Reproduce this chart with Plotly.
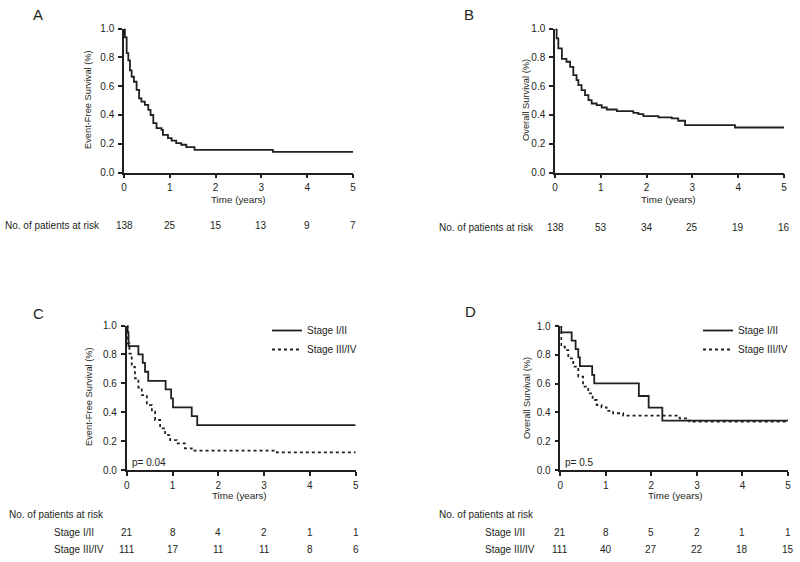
import plotly.graph_objects as go

# ---------------- data ----------------
ticks = [0, 1, 2, 3, 4, 5]

# Panel A: Event-free survival, all patients
A_t = [0, 0.02, 0.058, 0.094, 0.13, 0.167, 0.217, 0.275, 0.33, 0.38, 0.455, 0.53, 0.58, 0.64, 0.71,
       0.82, 0.85, 0.96, 1.04, 1.14, 1.25, 1.36, 1.54, 3.25, 5]
A_s = [1, 0.94, 0.83, 0.78, 0.71, 0.666, 0.631, 0.574, 0.516, 0.493, 0.47, 0.435, 0.40, 0.343, 0.308,
       0.297, 0.262, 0.239, 0.222, 0.204, 0.193, 0.177, 0.158, 0.143, 0.143]

# Panel B: Overall survival, all patients
B_t = [0, 0.036, 0.073, 0.15, 0.25, 0.33, 0.40, 0.47, 0.51, 0.58, 0.655, 0.73, 0.80, 0.91, 1.02,
       1.13, 1.35, 1.71, 1.82, 1.93, 2.26, 2.55, 2.69, 2.84, 3.93, 5]
B_s = [1, 0.933, 0.863, 0.79, 0.77, 0.735, 0.677, 0.643, 0.608, 0.573, 0.538, 0.503, 0.48, 0.469, 0.452,
       0.438, 0.427, 0.415, 0.406, 0.392, 0.383, 0.376, 0.36, 0.329, 0.313, 0.313]

# Panel C: Event-free survival by stage
C1_t = [0, 0.02, 0.04, 0.255, 0.35, 0.40, 0.47, 0.85, 0.97, 1.01, 1.42, 1.54, 5]
C1_s = [1, 0.952, 0.857, 0.80, 0.742, 0.68, 0.617, 0.558, 0.495, 0.433, 0.373, 0.311, 0.311]
C2_t = [0, 0.02, 0.06, 0.11, 0.18, 0.255, 0.33, 0.44, 0.55, 0.62, 0.73, 0.84, 0.95, 1.09, 1.27,
        1.42, 3.28, 5]
C2_s = [1, 0.876, 0.806, 0.714, 0.634, 0.571, 0.518, 0.449, 0.403, 0.346, 0.288, 0.242, 0.207, 0.184,
        0.15, 0.134, 0.122, 0.122]

# Panel D: Overall survival by stage
D1_t = [0, 0.02, 0.25, 0.336, 0.395, 0.43, 0.70, 0.745, 1.725, 1.94, 2.24, 5]
D1_s = [1, 0.956, 0.898, 0.84, 0.782, 0.722, 0.66, 0.602, 0.514, 0.433, 0.343, 0.343]
D2_t = [0, 0.02, 0.10, 0.175, 0.285, 0.395, 0.50, 0.614, 0.71, 0.80, 0.906, 1.016, 1.16, 1.38,
        2.62, 2.76, 2.84, 5]
D2_s = [1, 0.856, 0.833, 0.775, 0.718, 0.648, 0.579, 0.532, 0.486, 0.451, 0.435, 0.41, 0.394, 0.377,
        0.359, 0.343, 0.336, 0.336]

risk_A = [138, 25, 15, 13, 9, 7]
risk_B = [138, 53, 34, 25, 19, 16]
risk_C_early = [21, 8, 4, 2, 1, 1]
risk_C_late = [111, 17, 11, 11, 8, 6]
risk_D_early = [21, 8, 5, 2, 1, 1]
risk_D_late = [111, 40, 27, 22, 18, 15]

group_names = ["Stage I/II", "Stage III/IV"]
p_C = "p= 0.04"
p_D = "p= 0.5"

# ---------------- styling ----------------
FONT = "Liberation Sans, Arial, sans-serif"
INK = "#231f20"
W, H = 800, 562


def px(x):
    return x / W


def py(y):
    return 1 - y / H


fig = go.Figure()

def step(x, y, ax, dash="solid", name=None, legend=None, show=False):
    fig.add_trace(go.Scatter(
        x=x, y=y, mode="lines", line=dict(shape="hv", color=INK, width=1.8, dash=dash),
        xaxis="x" + ax, yaxis="y" + ax, name=name, showlegend=show,
        legend=legend, cliponaxis=False, hoverinfo="skip"))

step(A_t, A_s, "")
step(B_t, B_s, "2")
step(C1_t, C1_s, "3", "solid", group_names[0], "legend", True)
step(C2_t, C2_s, "3", "dot", group_names[1], "legend", True)
step(D1_t, D1_s, "4", "solid", group_names[0], "legend2", True)
step(D2_t, D2_s, "4", "dot", group_names[1], "legend2", True)

# axis domains (in pixels) : (x0, x1, ytop, ybottom)
dom = {
    "": (124, 353, 28.7, 172.5),
    "2": (555, 784, 28.7, 172.5),
    "3": (126.7, 355.7, 325.5, 470),
    "4": (560.3, 788, 326, 470),
}

axis_common = dict(showline=True, linecolor=INK, linewidth=1.5, ticks="outside", ticklen=4,
                   tickwidth=1.5, tickcolor=INK, showgrid=False, zeroline=False,
                   tickfont=dict(family=FONT, size=10, color=INK), fixedrange=True)
lay = {}
for k, (x0, x1, yt, yb) in dom.items():
    lay["xaxis" + k] = dict(axis_common, domain=[px(x0), px(x1)], range=[0, 5], tickvals=ticks,
                            anchor="y" + k, ticklabelstandoff=1)
    lay["yaxis" + k] = dict(axis_common, domain=[py(yb), py(yt)], range=[0, 1],
                            tickvals=[0, 0.2, 0.4, 0.6, 0.8, 1.0], tickformat=".1f",
                            anchor="x" + k, ticklabelstandoff=2)

ann = []
def text(x, y, s, size=10, xanchor="center", **kw):
    ann.append(dict(x=x, y=y, xref=kw.pop("xref", "paper"), yref=kw.pop("yref", "paper"), text=s,
                    showarrow=False, xanchor=xanchor, yanchor="middle",
                    font=dict(family=FONT, size=size, color=INK), **kw))

# panel letters
for lab, (x, y) in {"A": (38, 15), "B": (469, 15), "C": (38, 313), "D": (470, 311)}.items():
    text(px(x), py(y), lab, size=15)

# y-axis titles
text(px(88), py(100), "Event-Free Survival (%)", size=9.3, textangle=-90)
text(px(526), py(100), "Overall Survival (%)", size=9.3, textangle=-90)
text(px(89), py(397), "Event-Free Survival (%)", size=9.3, textangle=-90)
text(px(527), py(398), "Overall Survival (%)", size=9.3, textangle=-90)

# x-axis titles
text(px(238), py(199), "Time (years)", size=9.8)
text(px(668), py(199), "Time (years)", size=9.8)
text(px(239), py(495), "Time (years)", size=9.8)
text(px(675), py(495), "Time (years)", size=9.8)

# p-values
text(0.07, 0.055, p_C, size=10, xanchor="left", xref="x3", yref="y3")
text(0.06, 0.05, p_D, size=10, xanchor="left", xref="x4", yref="y4")

# risk tables
text(px(102), py(226), "No. of patients at risk", xanchor="right")
text(px(536), py(227), "No. of patients at risk", xanchor="right")
text(px(7), py(514), "No. of patients at risk", xanchor="left")
text(px(437), py(514), "No. of patients at risk", xanchor="left")
text(px(52), py(532), group_names[0], xanchor="left")
text(px(52), py(549), group_names[1], xanchor="left")
text(px(483), py(532), group_names[0], xanchor="left")
text(px(483), py(549), group_names[1], xanchor="left")

for t, v in zip(ticks, risk_A):
    text(t, py(226), str(v), xref="x")
for t, v in zip(ticks, risk_B):
    text(t, py(227), str(v), xref="x2")
for t, v in zip(ticks, risk_C_early):
    text(t, py(532), str(v), xref="x3")
for t, v in zip(ticks, risk_C_late):
    text(t, py(549), str(v), xref="x3")
for t, v in zip(ticks, risk_D_early):
    text(t, py(532), str(v), xref="x4")
for t, v in zip(ticks, risk_D_late):
    text(t, py(549), str(v), xref="x4")

legend_style = dict(font=dict(family=FONT, size=10, color=INK), bgcolor="rgba(0,0,0,0)",
                    xanchor="left", yanchor="top", itemwidth=30, tracegroupgap=0)

fig.update_layout(
    width=W, height=H, margin=dict(l=0, r=0, t=0, b=0, autoexpand=False),
    paper_bgcolor="white", plot_bgcolor="white",
    annotations=ann,
    legend=dict(legend_style, x=px(267), y=py(316)),
    legend2=dict(legend_style, x=px(698), y=py(316)),
    **lay,
)

fig.write_html("out.html", config={"displayModeBar": False},
               post_script="document.body.style.margin='0';document.body.style.overflow='hidden';")
